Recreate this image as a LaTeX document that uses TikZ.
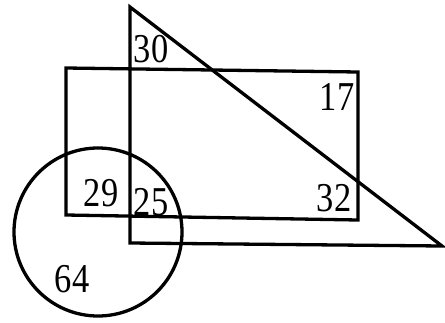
\documentclass[tikz,border=0pt]{standalone}
\usepackage{fontspec}
\setmainfont{Liberation Serif}
\newcommand{\numtxt}[1]{\scalebox{0.84}[1]{#1}}
\begin{document}
\begin{tikzpicture}[x=1pt,y=-1pt,
  outline/.style={line width=3.3pt,line join=miter},
  num/.style={inner sep=0pt,font=\fontsize{41}{41}\selectfont}]
\useasboundingbox (0,0) rectangle (445,322);
\coordinate (ta) at (130,7);
\coordinate (tb) at (130,243);
\coordinate (tc) at (442,246);
\coordinate (r1) at (66,68);
\coordinate (r2) at (358,72);
\coordinate (r3) at (358,220);
\coordinate (r4) at (66,215);
\coordinate (cc) at (98,232);
\draw[outline] (ta) -- (tb) -- (tc) -- cycle;
\draw[outline] (r1) -- (r2) -- (r3) -- (r4) -- cycle;
\draw[outline] (cc) circle (84);
\node[num] (n30) at (151,49) {\numtxt{30}};
\node[num] (n17) at (337,97) {\numtxt{17}};
\node[num] (n29) at (101,193) {\numtxt{29}};
\node[num] (n25) at (151,202) {\numtxt{25}};
\node[num] (n32) at (334,198) {\numtxt{32}};
\node[num] (n64) at (72,279) {\numtxt{64}};
\end{tikzpicture}
\end{document}
